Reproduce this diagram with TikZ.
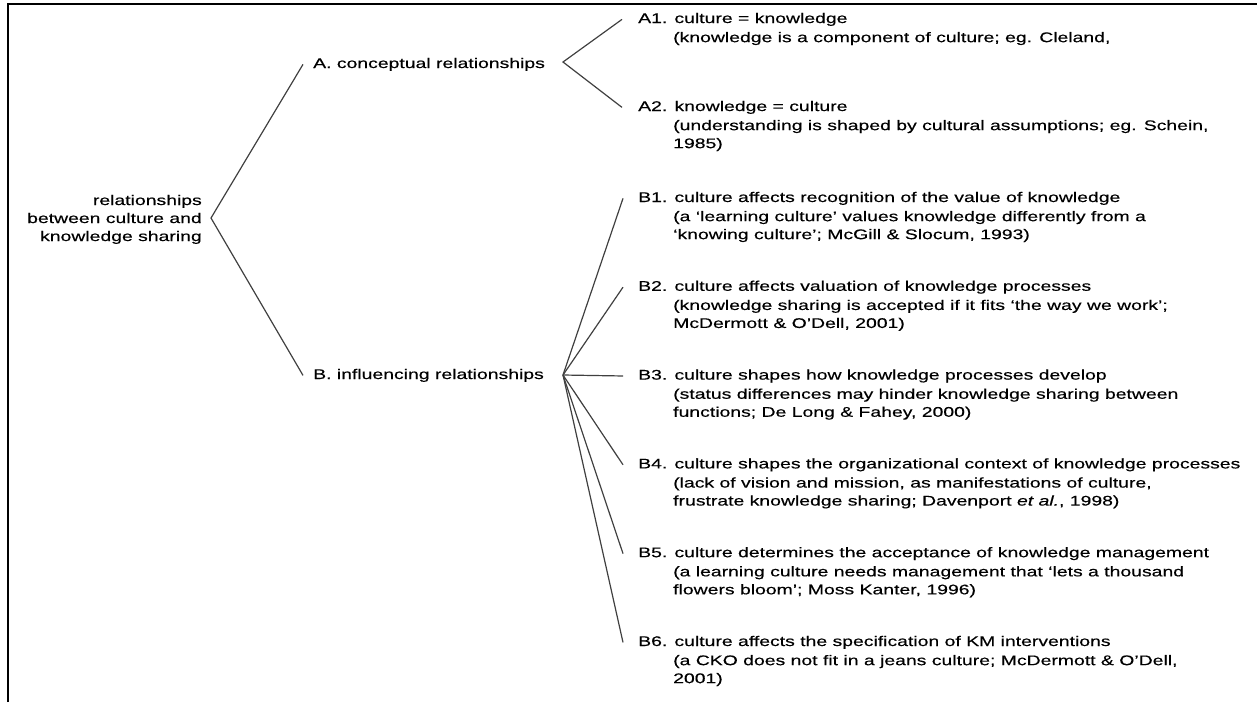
\documentclass[tikz,border=0pt]{standalone}
\usepackage{fontspec}
\setmainfont{Liberation Sans}[FakeStretch=1.385,FakeBold=0.35]
\begin{document}
\begin{tikzpicture}[x=1pt,y=-1pt,
  txt/.style={font=\fontsize{14}{18}\selectfont, inner sep=0pt, text=black},
  head/.style={txt, anchor=base west},
  det/.style={txt, anchor=north west, align=left},
  conn/.style={draw=black!75, line width=1.2pt},
  frame/.style={line width=2.5pt}]
\useasboundingbox (0,0) rectangle (1257,702);
\draw[frame] (8,702) -- (8,4) -- (1257,4);

% root
\node[txt, align=right, anchor=east] (root) at (202,219.4) {relationships\\between culture and\\knowledge sharing};
\coordinate (rfork) at (211,218);

% level 1
\node[head] (A) at (313,68) {A. conceptual relationships};
\node[head] (B) at (313,379) {B. influencing relationships};
\draw[conn] ([xshift=-10pt]A.west) -- (rfork) -- ([xshift=-10pt]B.west);

\coordinate (afork) at (563,62);
\coordinate (bfork) at (563,375);

% A items
\node[head] (a1) at (638,23) {A1. culture = knowledge};
\node[det] (a1d) at (673,31.8) {(knowledge is a component of culture; eg. Cleland,};
\node[head] (a2) at (638,111) {A2. knowledge = culture};
\node[det] (a2d) at (673,119.8) {(understanding is shaped by cultural assumptions; eg. Schein,\\1985)};

% B items
\node[head] (b1) at (638,202) {B1. culture affects recognition of the value of knowledge};
\node[det] (b1d) at (673,210.8) {(a ‘learning culture’ values knowledge differently from a\\‘knowing culture’; McGill \& Slocum, 1993)};
\node[head] (b2) at (638,290.8) {B2. culture affects valuation of knowledge processes};
\node[det] (b2d) at (673,299.6) {(knowledge sharing is accepted if it fits ‘the way we work’;\\McDermott \& O’Dell, 2001)};
\node[head] (b3) at (638,379.6) {B3. culture shapes how knowledge processes develop};
\node[det] (b3d) at (673,388.4) {(status differences may hinder knowledge sharing between\\functions; De Long \& Fahey, 2000)};
\node[head] (b4) at (638,468.4) {B4. culture shapes the organizational context of knowledge processes};
\node[det] (b4d) at (673,477.2) {(lack of vision and mission, as manifestations of culture,\\frustrate knowledge sharing; Davenport \textit{et al.}, 1998)};
\node[head] (b5) at (638,557.2) {B5. culture determines the acceptance of knowledge management};
\node[det] (b5d) at (673,566) {(a learning culture needs management that ‘lets a thousand\\flowers bloom’; Moss Kanter, 1996)};
\node[head] (b6) at (638,646) {B6. culture affects the specification of KM interventions};
\node[det] (b6d) at (673,654.8) {(a CKO does not fit in a jeans culture; McDermott \& O’Dell,\\2001)};

% connectors
\draw[conn] ([xshift=-16pt]a1.west) -- (afork) -- ([xshift=-16pt]a2.west);
\foreach \n in {b1,b2,b3,b4,b5,b6}
  \draw[conn] (bfork) -- ([xshift=-15pt]\n.west);
\end{tikzpicture}
\end{document}
